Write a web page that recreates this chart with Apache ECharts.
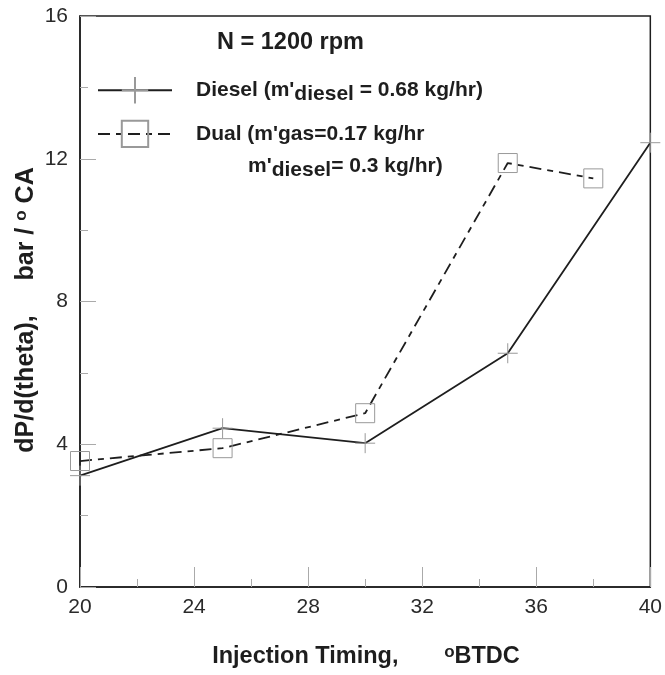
<!DOCTYPE html>
<html><head><meta charset="utf-8">
<script src="https://cdn.jsdelivr.net/npm/echarts@6/dist/echarts.min.js"></script>
<style>html,body{margin:0;padding:0;background:#fff}#c{width:665px;height:675px}</style>
</head><body><div id="c"></div>
<script>
const dieselX = [20, 25, 30, 35, 40];
const dieselY = [3.12, 4.45, 4.03, 6.55, 12.45];
const dualX = [20, 25, 30, 35, 38];
const dualY = [3.53, 3.89, 4.87, 11.88, 11.45];
const xTicks = [20, 24, 28, 32, 36, 40];
const yTicks = [0, 4, 8, 12, 16];

const FONT = '"Liberation Sans", Arial, sans-serif';
const crossPath = 'path://M0,10L20,10M10,0L10,20';
const INK = '#1e1e1e';
const chart = echarts.init(document.getElementById('c'));
chart.setOption({
  animation: false,
  backgroundColor: '#fff',
  grid: {left: 80, right: 9, top: 16, bottom: 88, show: true, borderColor: INK, borderWidth: 1.5, backgroundColor: 'transparent'},
  xAxis: {
    type: 'value', min: xTicks[0], max: xTicks[xTicks.length-1], interval: 4,
    axisLine: {lineStyle: {color: INK, width: 1.5}},
    axisTick: {inside: true, length: 20, lineStyle: {color: '#aaa'}},
    minorTick: {show: true, splitNumber: 2, length: 8, lineStyle: {color: '#aaa'}},
    splitLine: {show: false},
    axisLabel: {fontFamily: FONT, fontSize: 21, color: '#2a2a2a', margin: 10, showMaxLabel: true}
  },
  yAxis: {
    type: 'value', min: yTicks[0], max: yTicks[yTicks.length-1], interval: 4,
    axisLine: {lineStyle: {color: INK, width: 1.5}},
    axisTick: {inside: true, length: 16, lineStyle: {color: '#aaa'}},
    minorTick: {show: true, splitNumber: 2, length: 8, lineStyle: {color: '#aaa'}},
    splitLine: {show: false},
    axisLabel: {fontFamily: FONT, fontSize: 21, color: '#2a2a2a', margin: 12}
  },
  title: {text: 'N = 1200 rpm', left: 217, top: 31, padding: 0, textStyle: {fontFamily: FONT, fontSize: 23.5, fontWeight: 'bold', color: INK}},
  legend: {
    orient: 'vertical', left: 97, top: 76, padding: 0, itemWidth: 74, itemHeight: 33, itemGap: 15,
    textStyle: {fontFamily: FONT, fontSize: 21, fontWeight: 'bold', color: INK, padding: [0,0,0,19],
      rich: {
        a: {fontFamily: FONT, fontSize: 21, fontWeight: 'bold', color: INK},
        b: {fontFamily: FONT, fontSize: 21, fontWeight: 'bold', color: INK, padding: [8,0,0,0]}
      }},
    data: ['Diesel', 'Dual'],
    formatter: function (n) {
      return n === 'Diesel' ? "{a|Diesel (m'}{b|diesel}{a| = 0.68 kg/hr)}" : "{a|Dual (m'gas=0.17 kg/hr}";
    }
  },
  graphic: [
    {type: 'text', x: 248, y: 166,
     style: {text: "{a|m'}{b|diesel}{a|= 0.3 kg/hr)}", verticalAlign: 'middle',
       rich: {a: {font: 'bold 21px ' + FONT, fill: INK}, b: {font: 'bold 21px ' + FONT, fill: INK, padding: [8,0,0,0]}}}},
    {type: 'text', x: 26, y: 310, rotation: Math.PI/2,
     style: {text: '{a|dP/d(theta),     bar / }{s|o}{a| CA}', align: 'center', verticalAlign: 'middle',
       rich: {a: {font: 'bold 25px ' + FONT, fill: INK}, s: {font: 'bold 17px ' + FONT, fill: INK, padding: [0,0,10,0]}}}},
    {type: 'text', x: 366, y: 657,
     style: {text: '{a|Injection Timing,       }{s|o}{a|BTDC}', align: 'center', verticalAlign: 'middle',
       rich: {a: {font: 'bold 23.5px ' + FONT, fill: INK}, s: {font: 'bold 17px ' + FONT, fill: INK, padding: [0,0,10,0]}}}}
  ],
  series: [
    {name: 'Diesel', type: 'line', data: dieselX.map((x,i)=>[x, dieselY[i]]),
     symbol: crossPath, symbolSize: 20,
     lineStyle: {color: INK, width: 1.8},
     itemStyle: {color: 'transparent', borderColor: '#999', borderWidth: 1}},
    {name: 'Dual', type: 'line', data: dualX.map((x,i)=>[x, dualY[i]]),
     symbol: 'rect', symbolSize: 19,
     lineStyle: {color: INK, width: 1.8, type: [12, 6, 6, 6]},
     itemStyle: {color: 'transparent', borderColor: '#999', borderWidth: 1}}
  ]
});
</script></body></html>
